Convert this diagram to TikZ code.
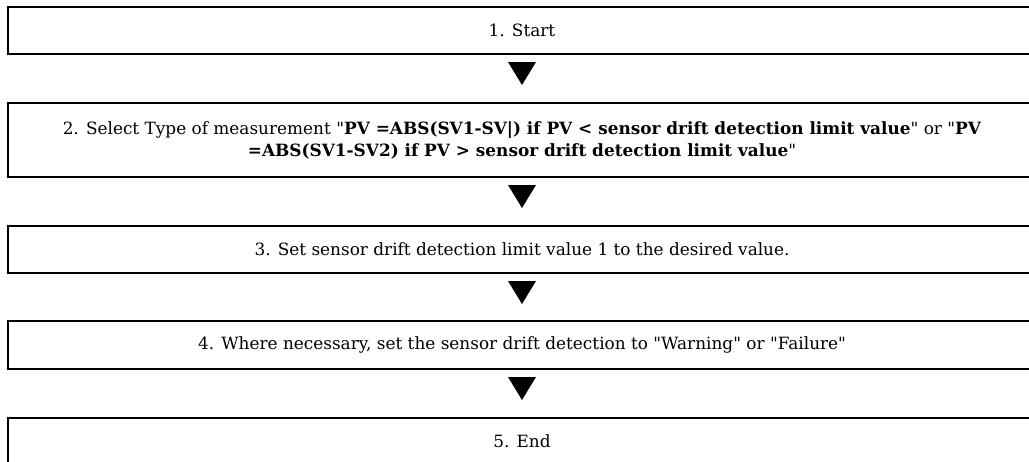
\documentclass[tikz,border=0pt]{standalone}
\usepackage{fontspec}
\setmainfont{DejaVu Serif}
\usetikzlibrary{positioning,calc}
\newcommand{\qd}{\textquotedbl}
\tikzset{
  stepbox/.style={draw,line width=1pt,minimum width=514pt,minimum height=#1,inner sep=0pt,align=center,font=\fontsize{8.45}{11}\selectfont},
  steptri/.style={fill=black},
}

\begin{document}
\begin{tikzpicture}[x=0.5pt,y=0.5pt,line join=miter]
\useasboundingbox (0,0) rectangle (1029,-461);
\clip (0,0) rectangle (1029,-461);
\node[stepbox=23.5pt] (start) at (522,-30.5) {1. Start};
\node[stepbox=37pt] (select) at (522,-140) {2. Select Type of measurement \qd\textbf{PV =ABS(SV1-SV|) if PV < sensor drift detection limit value}\qd{} or \qd\textbf{PV}\\\textbf{=ABS(SV1-SV2) if PV > sensor drift detection limit value}\qd};
\node[stepbox=23.5pt] (limit) at (522,-249.5) {3. Set sensor drift detection limit value 1 to the desired value.};
\node[stepbox=24pt] (warn) at (522,-345) {4. Where necessary, set the sensor drift detection to \qd Warning\qd{} or \qd Failure\qd};
\node[stepbox=23.5pt] (end) at (522,-441.5) {5. End};
% arrows between the steps
\foreach \a/\b in {start/select,select/limit,limit/warn,warn/end}
  \fill[steptri] ($(\a.south)+(-14,-7)$) -- ++(28,0) -- ++(-14,-23) -- cycle;
\end{tikzpicture}
\end{document}
